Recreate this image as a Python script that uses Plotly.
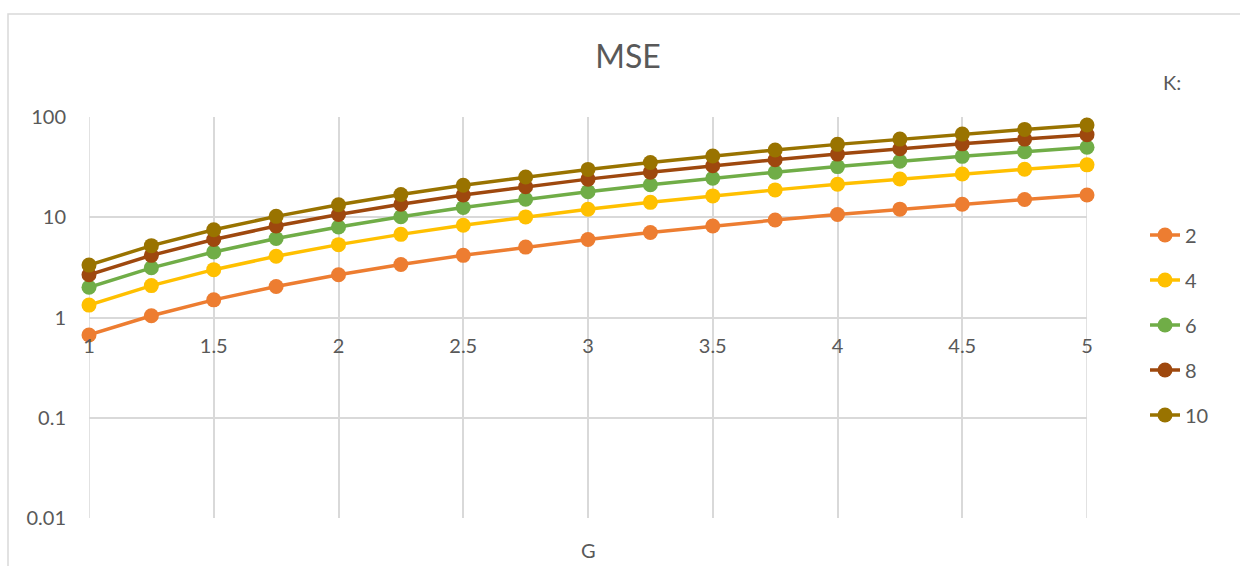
import plotly.graph_objects as go

# Smoothing factor G on the x axis
g_values = [1, 1.25, 1.5, 1.75, 2, 2.25, 2.5, 2.75, 3, 3.25, 3.5, 3.75, 4, 4.25, 4.5, 4.75, 5]

# MSE for each K
mse_k2 = [0.67, 1.04, 1.5, 2.04, 2.67, 3.38, 4.17, 5.04, 6.0, 7.04, 8.17, 9.38, 10.67, 12.04, 13.5, 15.04, 16.67]
mse_k4 = [1.33, 2.08, 3.0, 4.08, 5.33, 6.75, 8.33, 10.08, 12.0, 14.08, 16.33, 18.75, 21.33, 24.08, 27.0, 30.08, 33.33]
mse_k6 = [2.0, 3.13, 4.5, 6.13, 8.0, 10.13, 12.5, 15.13, 18.0, 21.13, 24.5, 28.13, 32.0, 36.13, 40.5, 45.13, 50.0]
mse_k8 = [2.67, 4.17, 6.0, 8.17, 10.67, 13.5, 16.67, 20.17, 24.0, 28.17, 32.67, 37.5, 42.67, 48.17, 54.0, 60.17, 66.67]
mse_k10 = [3.33, 5.21, 7.5, 10.21, 13.33, 16.88, 20.83, 25.21, 30.0, 35.21, 40.83, 46.88, 53.33, 60.21, 67.5, 75.21, 83.33]

k_labels = ["2", "4", "6", "8", "10"]
series = [mse_k2, mse_k4, mse_k6, mse_k8, mse_k10]
colors = ["#ED7D31", "#FFC000", "#70AD47", "#9E480E", "#997300"]

y_tickvals = [0.01, 0.1, 1, 10, 100]
y_ticktext = ["0.01", "0.1", "1", "10", "100"]
x_tickvals = [1, 1.5, 2, 2.5, 3, 3.5, 4, 4.5, 5]
x_ticktext = ["1", "1.5", "2", "2.5", "3", "3.5", "4", "4.5", "5"]

FONT = "Lato"
TEXT = "#595959"
GRID = "#D9D9D9"

W, H = 1240, 566
L, R, T, B = 89, 153, 117, 48
plot_w = W - L - R
plot_h = H - T - B

fig = go.Figure()
for name, vals, col in zip(k_labels, series, colors):
    fig.add_trace(go.Scatter(
        x=g_values, y=vals, name=name, legendgroup=name,
        mode="lines+markers",
        line=dict(color=col, width=3.5),
        marker=dict(color=col, size=15),
        cliponaxis=False,
    ))

# vertical gridlines on the two edges of the G range
for gx in (x_tickvals[0], x_tickvals[-1]):
    fig.add_shape(type="line", xref="x", yref="paper", x0=gx, x1=gx, y0=0, y1=1,
                  line=dict(color=GRID, width=1.5), layer="below")

# outer chart frame
fig.add_shape(type="rect", xref="paper", yref="paper",
              x0=(8 - L) / plot_w, x1=(W + 10 - L) / plot_w,
              y0=-(H + 10 - (H - B)) / plot_h, y1=(H - B - 14) / plot_h,
              line=dict(color=GRID, width=1.5), fillcolor="rgba(0,0,0,0)", layer="below")

fig.add_annotation(text="G", xref="paper", yref="paper", x=0.5,
                   y=-(550 - (H - B)) / plot_h, yanchor="middle", showarrow=False,
                   font=dict(family=FONT, size=20, color=TEXT))
fig.add_annotation(text="K:", xref="paper", yref="paper", x=(1172 - L) / plot_w,
                   y=(H - B - 82) / plot_h, yanchor="middle", xanchor="center", showarrow=False,
                   font=dict(family=FONT, size=20, color=TEXT))

fig.update_layout(
    width=W, height=H,
    margin=dict(l=L, r=R, t=T, b=B),
    paper_bgcolor="white", plot_bgcolor="white",
    font=dict(family=FONT, size=20, color=TEXT),
    title=dict(text="MSE", x=628 / W, xanchor="center", xref="container",
               y=1 - 57 / H, yanchor="middle", yref="container",
               font=dict(family=FONT, size=32, color=TEXT)),
    showlegend=True,
    legend=dict(x=(1145 - L) / plot_w, xanchor="left", y=(H - B - 325) / plot_h, yanchor="middle",
                tracegroupgap=16, font=dict(family=FONT, size=20, color=TEXT),
                bgcolor="rgba(0,0,0,0)"),
    xaxis=dict(range=[1, 5], tickvals=x_tickvals, ticktext=x_ticktext,
               showgrid=True, gridcolor=GRID, gridwidth=1.5,
               zeroline=False, showline=False, ticks="",
               anchor="free", position=0.5, ticklabelstandoff=14,
               tickfont=dict(family=FONT, size=20, color=TEXT)),
    yaxis=dict(type="log", range=[-2, 2], tickvals=y_tickvals, ticktext=y_ticktext,
               showgrid=True, gridcolor=GRID, gridwidth=1.5,
               zeroline=False, showline=False, ticks="",
               ticklabelstandoff=22,
               tickfont=dict(family=FONT, size=20, color=TEXT)),
)

fig.write_html("out.html")
